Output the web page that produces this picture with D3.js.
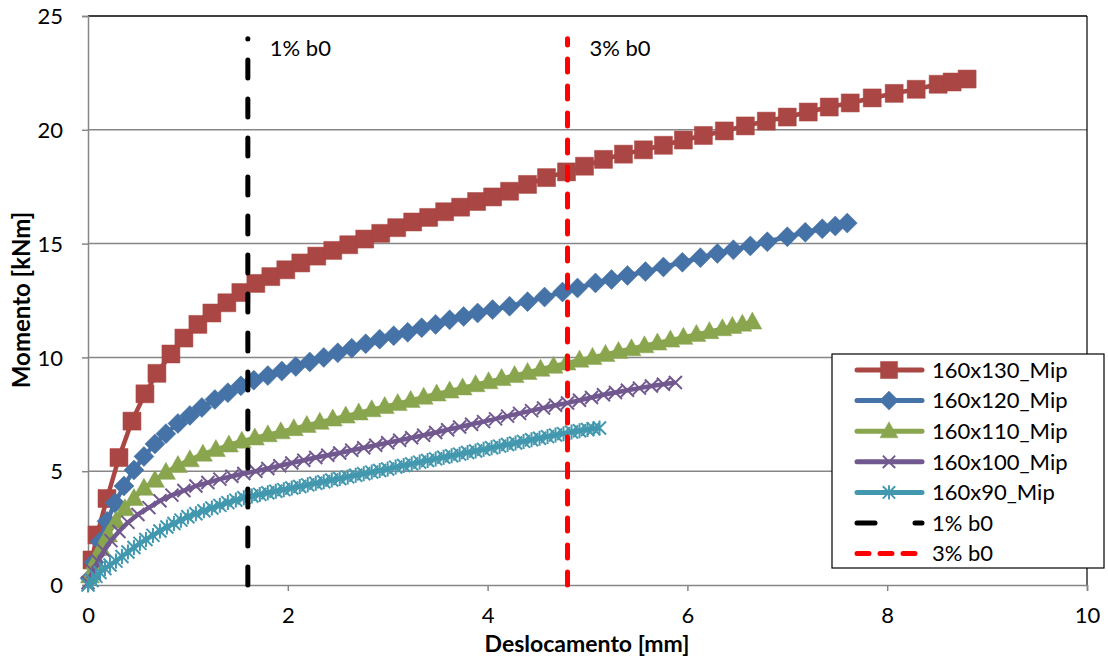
<!DOCTYPE html>
<html>
<head>
<meta charset="utf-8">
<script src="https://cdn.jsdelivr.net/npm/d3@7"></script>
<style>
html,body{margin:0;padding:0;background:#fff;}
svg{display:block;font-family:Lato,"Open Sans",sans-serif;}
</style>
</head>
<body>
<svg id="chart" width="1108" height="657"></svg>
<script>
// ---- data ----
const xTicks = [0, 2, 4, 6, 8, 10];
const yTicks = [0, 5, 10, 15, 20, 25];

const s130x = [0.04,0.09,0.19,0.31,0.44,0.57,0.69,0.83,0.96,1.10,1.24,1.39,1.53,1.68,1.83,1.98,2.13,2.29,2.45,2.61,2.77,2.93,3.09,3.25,3.41,3.57,3.73,3.89,4.05,4.22,4.40,4.59,4.79,4.97,5.16,5.36,5.56,5.76,5.96,6.16,6.37,6.58,6.79,7.00,7.21,7.42,7.63,7.85,8.07,8.29,8.51,8.65,8.80];
const s130y = [1.1,2.2,3.8,5.6,7.2,8.4,9.3,10.15,10.85,11.45,11.95,12.4,12.85,13.25,13.55,13.85,14.15,14.45,14.7,14.95,15.2,15.45,15.7,15.95,16.15,16.4,16.6,16.85,17.05,17.3,17.6,17.9,18.15,18.4,18.7,18.93,19.12,19.32,19.55,19.75,19.95,20.17,20.38,20.56,20.78,21.0,21.18,21.4,21.6,21.78,22.0,22.1,22.23];

const s120x = [0.02,0.06,0.12,0.19,0.27,0.36,0.46,0.56,0.67,0.78,0.90,1.02,1.14,1.27,1.40,1.53,1.66,1.80,1.94,2.08,2.22,2.36,2.50,2.64,2.78,2.92,3.06,3.20,3.34,3.48,3.62,3.76,3.90,4.05,4.22,4.40,4.57,4.75,4.90,5.08,5.24,5.40,5.58,5.76,5.95,6.13,6.30,6.46,6.63,6.80,7.00,7.18,7.35,7.48,7.60];
const s120y = [0.3,1.0,1.9,2.8,3.6,4.35,5.05,5.65,6.2,6.65,7.1,7.45,7.8,8.15,8.45,8.75,9.0,9.2,9.4,9.6,9.8,10.0,10.2,10.4,10.6,10.8,10.95,11.1,11.3,11.45,11.65,11.8,11.95,12.1,12.25,12.45,12.65,12.87,13.05,13.27,13.42,13.6,13.77,13.97,14.18,14.38,14.57,14.73,14.9,15.08,15.3,15.5,15.65,15.77,15.9];

const s110x = [0.02,0.07,0.13,0.20,0.28,0.37,0.46,0.56,0.67,0.78,0.90,1.02,1.15,1.28,1.41,1.54,1.67,1.80,1.93,2.06,2.19,2.32,2.45,2.58,2.71,2.84,2.97,3.10,3.23,3.36,3.49,3.62,3.75,3.88,4.01,4.14,4.27,4.40,4.53,4.66,4.79,4.92,5.05,5.18,5.31,5.44,5.57,5.70,5.83,5.96,6.09,6.22,6.35,6.45,6.55,6.65];
const s110y = [0.4,1.0,1.6,2.2,2.8,3.35,3.8,4.25,4.6,4.95,5.25,5.5,5.75,5.95,6.15,6.32,6.46,6.6,6.73,6.87,7.01,7.15,7.29,7.42,7.56,7.7,7.84,7.97,8.11,8.25,8.39,8.52,8.66,8.8,8.93,9.07,9.2,9.34,9.48,9.61,9.75,9.88,10.0,10.13,10.26,10.38,10.51,10.63,10.76,10.88,11.01,11.13,11.26,11.36,11.46,11.55];

const s100x = [0.00,0.05,0.10,0.16,0.23,0.31,0.40,0.50,0.61,0.72,0.84,0.96,1.08,1.20,1.32,1.44,1.56,1.68,1.80,1.92,2.04,2.16,2.28,2.40,2.52,2.64,2.76,2.88,3.00,3.12,3.24,3.36,3.48,3.60,3.72,3.84,3.96,4.08,4.20,4.32,4.44,4.56,4.68,4.80,4.92,5.04,5.16,5.28,5.40,5.52,5.64,5.76,5.88];
const s100y = [0.1,0.6,1.05,1.5,1.95,2.35,2.75,3.1,3.4,3.7,3.95,4.15,4.35,4.5,4.65,4.78,4.9,5.0,5.12,5.24,5.36,5.48,5.6,5.7,5.8,5.92,6.03,6.14,6.25,6.36,6.47,6.58,6.7,6.82,6.94,7.06,7.18,7.3,7.42,7.54,7.66,7.78,7.9,8.0,8.12,8.24,8.36,8.46,8.56,8.65,8.74,8.82,8.9];

const s90x = [0.00,0.04,0.08,0.12,0.17,0.22,0.28,0.34,0.40,0.46,0.52,0.58,0.65,0.72,0.79,0.86,0.93,1.00,1.08,1.16,1.24,1.32,1.40,1.48,1.56,1.64,1.72,1.80,1.88,1.96,2.04,2.12,2.20,2.28,2.36,2.44,2.52,2.60,2.68,2.76,2.84,2.92,3.00,3.08,3.16,3.24,3.32,3.40,3.48,3.56,3.64,3.72,3.80,3.88,3.96,4.04,4.12,4.20,4.28,4.36,4.44,4.52,4.60,4.68,4.76,4.84,4.92,5.00,5.06,5.12];
const s90y = [0.0,0.2,0.38,0.55,0.72,0.88,1.05,1.25,1.45,1.65,1.83,2.0,2.18,2.37,2.55,2.7,2.85,3.0,3.13,3.26,3.38,3.5,3.62,3.73,3.83,3.91,3.98,4.05,4.12,4.19,4.26,4.33,4.4,4.47,4.54,4.61,4.68,4.75,4.82,4.89,4.96,5.03,5.1,5.18,5.25,5.32,5.4,5.47,5.54,5.61,5.68,5.75,5.82,5.89,5.96,6.03,6.1,6.17,6.24,6.31,6.38,6.45,6.52,6.59,6.65,6.72,6.78,6.83,6.87,6.9];

const refX = [1.6, 4.8];
const refY = [0, 24];
const refNames = ["1% b0", "3% b0"];

const seriesNames = ["160x130_Mip","160x120_Mip","160x110_Mip","160x100_Mip","160x90_Mip"];

// ---- build ----
const colors = ["#AA4643","#4572A7","#89A54E","#71588F","#4198AF"];
const markers = ["square","diamond","triangle","x","star"];
const series = [
  {name: seriesNames[0], xs: s130x, ys: s130y},
  {name: seriesNames[1], xs: s120x, ys: s120y},
  {name: seriesNames[2], xs: s110x, ys: s110y},
  {name: seriesNames[3], xs: s100x, ys: s100y},
  {name: seriesNames[4], xs: s90x, ys: s90y}
];

const svg = d3.select("#chart");
const X0 = 88, X1 = 1087, YT = 16, YB = 585;
const x = d3.scaleLinear().domain([0,10]).range([X0,X1]);
const y = d3.scaleLinear().domain([0,25]).range([YB,YT]);

// gridlines
svg.append("g").selectAll("line").data(yTicks.filter(d=>d>0 && d<25)).join("line")
  .attr("x1",X0).attr("x2",X1).attr("y1",d=>y(d)).attr("y2",d=>y(d))
  .attr("stroke","#868686").attr("stroke-width",1.5);
// plot border top/right
svg.append("line").attr("x1",X0).attr("x2",X1).attr("y1",y(25)).attr("y2",y(25)).attr("stroke","#000").attr("stroke-width",1.5);
svg.append("line").attr("x1",X1).attr("x2",X1).attr("y1",y(25)).attr("y2",y(0)).attr("stroke","#000").attr("stroke-width",1.2);

// axes
const yAxis = d3.axisLeft(y).tickValues(yTicks).tickSize(6).tickPadding(19).tickFormat(d3.format("d"));
const gy = svg.append("g").attr("transform",`translate(${X0},0)`).call(yAxis);
const xAxis = d3.axisBottom(x).tickValues(xTicks).tickSize(6).tickPadding(16).tickFormat(d3.format("d"));
const gx = svg.append("g").attr("transform",`translate(0,${YB})`).call(xAxis);
[gx,gy].forEach(g=>{
  g.select(".domain").attr("stroke","#868686").attr("stroke-width",1.5);
  g.selectAll(".tick line").attr("stroke","#868686").attr("stroke-width",1.5);
  g.selectAll(".tick text").attr("fill","#000").style("font-size","22px").style("font-family","Lato, sans-serif");
});
gy.selectAll(".tick text").attr("dy","0.35em");
gx.selectAll(".tick text").attr("dy","0.71em");

// axis titles
svg.append("text").attr("x",587).attr("y",652).attr("text-anchor","middle")
  .style("font-size","23px").style("font-weight","bold").text("Deslocamento [mm]");
svg.append("text").attr("transform","translate(30,300) rotate(-90)").attr("text-anchor","middle")
  .style("font-size","24px").style("font-weight","bold").text("Momento [kNm]");

// marker drawing
function markerPath(type){
  switch(type){
    case "square": return "M-9,-9H9V9H-9Z";
    case "diamond": return "M0,-10L10,0L0,10L-10,0Z";
    case "triangle": return "M0,-10L9.5,7L-9.5,7Z";
    case "x": return "M-6.5,-6.5L6.5,6.5M-6.5,6.5L6.5,-6.5";
    case "star": return "M-6.5,-6.5L6.5,6.5M-6.5,6.5L6.5,-6.5M0,-7.5L0,7.5";
  }
}
function drawMarker(g, type, color, cx, cy, scale){
  const p = g.append("path").attr("d", markerPath(type))
    .attr("transform", `translate(${cx},${cy}) scale(${scale||1})`);
  if(type==="x"||type==="star"){
    p.attr("fill","none").attr("stroke",color).attr("stroke-width",2);
  } else {
    p.attr("fill",color).attr("stroke",color).attr("stroke-width",0.5);
  }
}

const line = d3.line().x(d=>x(d[0])).y(d=>y(d[1]));
series.forEach((s,i)=>{
  const pts = s.xs.map((v,k)=>[v, s.ys[k]]);
  const g = svg.append("g");
  g.append("path").datum(pts).attr("d",line).attr("fill","none")
    .attr("stroke",colors[i]).attr("stroke-width",4.5).attr("stroke-linejoin","round");
  pts.forEach(p=>drawMarker(g, markers[i], colors[i], x(p[0]), y(p[1])));
});

// reference lines
const refStyles = [
  {color:"#000", dash:"18,21", width:5},
  {color:"#FF0000", dash:"13,14", width:5}
];
refX.forEach((rx,i)=>{
  svg.append("line").attr("x1",x(rx)).attr("x2",x(rx)).attr("y1",y(refY[0])).attr("y2",y(refY[1]))
    .attr("stroke",refStyles[i].color).attr("stroke-width",refStyles[i].width)
    .attr("stroke-dasharray",refStyles[i].dash).attr("stroke-linecap","round");
  svg.append("text").attr("x",x(rx)+22).attr("y",y(refY[1])+17)
    .style("font-size","22px").text(refNames[i]);
});

// legend
const lg = svg.append("g");
lg.append("rect").attr("x",832).attr("y",354).attr("width",272).attr("height",214)
  .attr("fill","#fff").attr("stroke","#000").attr("stroke-width",1.2);
const legendItems = seriesNames.map((n,i)=>({name:n, color:colors[i], marker:markers[i], dash:null}))
  .concat(refNames.map((n,i)=>({name:n, color:refStyles[i].color, marker:null, dash:i===0?"18,40":"12,11"})));
legendItems.forEach((it,i)=>{
  const cy = 370 + i*30.6;
  const l = lg.append("line").attr("x1",857).attr("x2",922).attr("y1",cy).attr("y2",cy)
    .attr("stroke",it.color).attr("stroke-width",5).attr("stroke-linecap","round");
  if(it.dash) l.attr("stroke-dasharray",it.dash);
  if(it.marker) drawMarker(lg, it.marker, it.color, 889, cy, 0.95);
  lg.append("text").attr("x",932).attr("y",cy).attr("dy","0.35em")
    .style("font-size","22px").text(it.name);
});
</script>
</body>
</html>
